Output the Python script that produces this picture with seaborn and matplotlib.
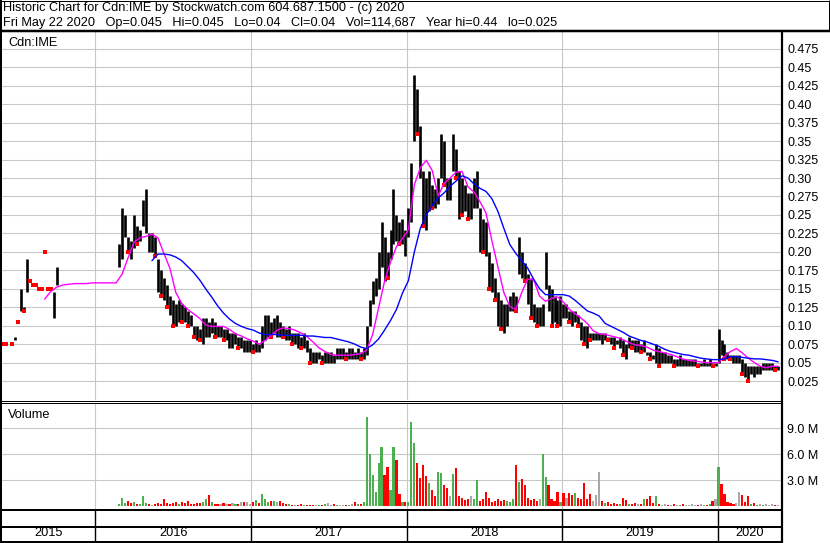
import numpy as np
import pandas as pd
import matplotlib
matplotlib.use('Agg')
import matplotlib.pyplot as plt
import seaborn as sns

nan = np.nan

# weekly bars, Fridays from 2015-05-29 to 2020-05-22
week_start = '2015-05-29'
n_weeks = 261

hi = [.075, .075, nan, .075, .085, .105, .15, .125, .19, .16,
      .155, .155, .15, .15, .2, .15, .15, .145, .18, nan,
      nan, nan, nan, nan, nan, nan, nan, nan, nan, nan,
      nan, nan, nan, nan, nan, nan, nan, nan, nan, .21,
      .26, .25, .22, .215, .25, .235, .23, .27, .285, .225,
      .225, .22, .19, .175, .165, .155, .14, .135, .13, .135,
      .13, .125, .12, .115, .1, .1, .095, .11, .11, .105,
      .11, .105, .1, .1, .095, .095, .09, .09, .09, .085,
      .085, .08, .08, .08, .075, .08, .075, .1, .115, .115,
      .105, .11, .115, .105, .1, .095, .1, .09, .09, .09,
      .085, .09, .08, .07, .065, .065, .065, .06, .065, .065,
      .065, .06, .07, .07, .07, .065, .07, .07, .065, .07,
      .065, .07, .1, .135, .16, .165, .2, .24, .22, .2,
      .23, .285, .25, .24, .245, .23, .26, .32, .44, .42,
      .37, .31, .3, .31, .29, .285, .3, .36, .35, .3,
      .3, .36, .34, .31, .3, .29, .28, .28, .3, .31,
      .26, .245, .24, .2, .185, .165, .145, .135, .13, .13,
      .14, .145, .14, .22, .2, .185, .17, .165, .13, .125,
      .125, .13, .2, .155, .15, .14, .135, .14, .13, .13,
      .12, .12, .12, .115, .105, .1, .1, .09, .09, .09,
      .09, .09, .09, .085, .085, .085, .08, .085, .08, .075,
      .085, .08, .08, .08, .075, .08, .065, .065, .06, .075,
      .07, .065, .065, .06, .06, .055, .055, .06, .055, .055,
      .055, .055, .055, .05, .05, .055, .05, .055, .05, .05,
      .095, .08, .075, .065, .06, .06, .06, .06, .055, .05,
      .045, .045, .045, .045, .045, .05, .05, .05, .05, .045, .045]

lo = [.075, .075, nan, .075, .08, .105, .12, .12, .145, .16,
      .155, .155, .15, .15, .2, .15, .15, .11, .155, nan,
      nan, nan, nan, nan, nan, nan, nan, nan, nan, nan,
      nan, nan, nan, nan, nan, nan, nan, nan, nan, .18,
      .19, .22, .2, .19, .205, .21, .215, .235, .225, .2,
      .2, .195, .145, .14, .135, .125, .115, .1, .1, .105,
      .105, .105, .1, .1, .085, .08, .08, .075, .085, .085,
      .09, .085, .085, .085, .08, .08, .07, .07, .075, .07,
      .07, .065, .065, .065, .065, .065, .065, .07, .08, .085,
      .085, .09, .085, .085, .085, .08, .08, .075, .075, .07,
      .07, .07, .065, .05, .05, .05, .055, .05, .05, .05,
      .05, .05, .055, .055, .055, .055, .055, .055, .055, .055,
      .055, .055, .06, .1, .13, .14, .15, .18, .16, .165,
      .19, .21, .215, .21, .21, .195, .22, .24, .35, .36,
      .3, .235, .23, .255, .26, .26, .265, .3, .29, .27,
      .27, .31, .3, .245, .25, .255, .245, .245, .26, .26,
      .2, .2, .195, .15, .145, .135, .1, .095, .09, .1,
      .12, .12, .12, .17, .165, .16, .13, .11, .105, .1,
      .1, .1, .15, .12, .1, .105, .1, .1, .11, .11,
      .105, .1, .105, .1, .08, .075, .07, .08, .08, .08,
      .08, .075, .08, .08, .075, .07, .075, .07, .06, .055,
      .07, .07, .065, .065, .065, .065, .06, .055, .055, .05,
      .045, .05, .05, .05, .05, .045, .045, .045, .045, .045,
      .045, .045, .045, .045, .045, .045, .045, .045, .045, .045,
      .05, .06, .055, .055, .055, .05, .05, .05, .035, .03,
      .025, .035, .03, .035, .035, .04, .04, .04, .04, .04, .04]

# volume in millions
vol = [.08, .08, 0, .08, .08, .08, .08, .08, .08, .08,
       .08, .08, .08, .08, .08, .08, .08, .08, .08, 0,
       0, 0, 0, 0, 0, 0, 0, 0, 0, 0,
       0, 0, 0, 0, 0, 0, 0, 0, 0, .3,
       .96, .4, .6, .4, .5, .3, .3, 1.2, .4, .3,
       .2, .3, .4, .3, .85, .4, .3, .4, .5, .3,
       .5, .4, .6, .3, .3, .4, .4, .5, .8, 1.3,
       .5, .3, .3, .3, .4, .3, .3, .4, .3, .3,
       .5, .5, .5, .3, .5, .7, .4, 1.4, .9, .5,
       .6, .6, .5, .6, .4, .3, .3, .2, .2, .2,
       .3, .2, .2, .2, .2, .2, .2, .2, .3, .4,
       .2, .3, .2, .2, .2, .2, .2, .3, .5, .3,
       .3, .5, 10.3, 6.0, 3.6, 1.6, 5.0, 6.8, 3.6, 4.5,
       1.9, 6.8, 5.3, 1.4, .5, .5, .5, 9.7, 7.3, 5.0,
       3.3, 4.8, 3.5, 2.7, 1.9, 1.2, 4.0, 3.8, 2.5, 2.1,
       1.2, 3.7, 4.4, 1.2, 1.0, .7, .9, 1.2, .8, 3.0,
       .6, .8, 1.6, 1.0, .5, .6, .8, .6, .7, .6,
       .5, .8, 4.8, 2.8, 3.1, 2.5, 1.0, .7, .8, .6,
       .9, 6.0, 3.4, 2.5, .9, .6, 1.6, .5, 1.5, 1.0,
       1.5, 1.3, 1.5, 1.0, .8, 2.7, .8, 1.4, .6, 1.3,
       4.0, .6, .4, .5, .3, .4, .3, .3, 1.0, .7,
       .3, .3, .4, .3, .3, .9, .9, 1.2, .4, 1.2,
       .3, .2, .3, .2, .2, .3, .2, .2, .3, .2,
       .2, .3, .2, .2, .3, .2, .2, .3, .6, .9,
       4.5, 2.6, 1.4, .5, .4, .3, .4, 1.6, 1.3, .5,
       1.2, .3, .4, .2, .3, .2, .3, .2, .3, .2, .2]

# moving averages, every second week
ma_short_from = 14
ma_short = [.136, .146, .152, .155, .156, .157, .157, .157, .158, .158,
            .158, .158, .158, .17, .192, .213, .219, .221, .224, .219,
            .198, .178, .145, .13, .122, .116, .11, .101, .099, .099,
            .099, .095, .089, .086, .082, .079, .075, .08, .087, .094,
            .097, .096, .094, .09, .085, .078, .07, .065, .061, .06,
            .06, .06, .061, .062, .067, .088, .124, .16, .186, .207,
            .218, .23, .291, .314, .324, .31, .276, .293, .3, .308,
            .309, .288, .281, .268, .253, .215, .18, .145, .126, .122,
            .145, .163, .162, .14, .133, .137, .139, .132, .122, .116,
            .11, .103, .093, .089, .088, .086, .084, .081, .077, .074,
            .073, .071, .067, .065, .063, .061, .058, .055, .053, .052,
            .051, .05, .05, .05, .058, .065, .069, .063, .056, .05,
            .045, .043, .045, .045]
ma_long_from = 50
ma_long = [.188, .197, .197, .196, .193, .188, .18, .172, .162, .15,
           .139, .127, .117, .109, .103, .099, .096, .094, .09, .088,
           .088, .088, .087, .087, .087, .087, .086, .086, .085, .084,
           .084, .082, .08, .078, .075, .071, .069, .074, .082, .094,
           .107, .122, .144, .161, .2, .232, .25, .263, .273, .28,
           .289, .296, .303, .3, .292, .286, .282, .272, .255, .232,
           .21, .198, .188, .178, .163, .15, .142, .142, .142, .142,
           .14, .134, .127, .12, .117, .113, .103, .099, .095, .091,
           .086, .083, .08, .078, .075, .072, .068, .065, .063, .061,
           .06, .058, .056, .055, .054, .054, .055, .058, .058, .057,
           .056, .055, .055, .054, .053, .051]

price_ticks = [.025, .05, .075, .10, .125, .15, .175, .20, .225, .25,
               .275, .30, .325, .35, .375, .40, .425, .45, .475]
price_labels = ['0.025', '0.05', '0.075', '0.10', '0.125', '0.15', '0.175',
                '0.20', '0.225', '0.25', '0.275', '0.30', '0.325', '0.35',
                '0.375', '0.40', '0.425', '0.45', '0.475']
vol_ticks = [3e6, 6e6, 9e6]
vol_labels = ['3.0 M', '6.0 M', '9.0 M']
years = [2015, 2016, 2017, 2018, 2019, 2020]

title1 = 'Historic Chart for Cdn:IME by Stockwatch.com 604.687.1500 - (c) 2020'
title2 = ('Fri May 22 2020   Op=0.045   Hi=0.045   Lo=0.04   Cl=0.04   '
          'Vol=114,687   Year hi=0.44   lo=0.025')

sns.set_theme(style='white')
plt.rcParams['font.family'] = ['Liberation Sans', 'DejaVu Sans']
FS = 9.2    # header, panel names, years
FS_T = 9.0  # right-hand scale

W, H = 830, 543
PX = 0.72  # one pixel in points

dates = pd.date_range(week_start, periods=n_weeks, freq='7D')
hi = np.array(hi)
lo = np.array(lo)
vol = np.array(vol) * 1e6
mid = pd.Series((hi + lo) / 2)
prev = mid.ffill().shift()
vcol = np.where(mid > prev, '#4caf50', np.where(mid < prev, '#ff0000', '#a8a8a8'))

x_left = pd.Timestamp('2015-05-27')
x_right = pd.Timestamp('2020-05-31')
year_starts = [pd.Timestamp(f'{y}-01-01') for y in years[1:]]


def box(x0, y0, x1, y1):
    return [x0 / W, 1 - y1 / H, (x1 - x0) / W, (y1 - y0) / H]


fig = plt.figure(figsize=(W / 100, H / 100), dpi=100)
fig.patch.set_facecolor('white')

# price panel
ax = fig.add_axes(box(2, 30.4, 782, 399.5))
ax.set_xlim(x_left, x_right)
ax.set_ylim(0, 0.5)
ax.set_xticks(year_starts)
ax.set_xticklabels([])
ax.set_yticks(price_ticks)
ax.set_yticklabels(price_labels)
ax.yaxis.tick_right()
ax.tick_params(axis='both', length=0, labelsize=FS_T, pad=3.6, colors='black')
ax.grid(True, color='#c8c8c8', lw=1.1 * PX)
ax.set_axisbelow(True)
for s in ax.spines.values():
    s.set_visible(False)

ax.vlines(dates, lo, hi, color='black', lw=1.9, zorder=3)
flat = hi == lo
down = (mid < prev).values & ~flat
sns.scatterplot(x=dates[flat], y=hi[flat], ax=ax, color='#ff0000', marker='s',
                s=10, linewidth=0, zorder=4)
sns.scatterplot(x=dates[down][::2], y=lo[down][::2], ax=ax, color='#ff0000',
                marker='s', s=6, linewidth=0, zorder=4)
sns.lineplot(x=dates[ma_short_from::2], y=ma_short, ax=ax, color='#ff00ff',
             lw=1.0, zorder=5)
sns.lineplot(x=dates[ma_long_from::2], y=ma_long, ax=ax, color='#0000ff',
             lw=1.0, zorder=5)
ax.set_xlabel('')
ax.set_ylabel('')
ax.text(6 / 780, 1 - 15.5 / 369, 'Cdn:IME', transform=ax.transAxes,
        fontsize=FS, color='black')

# volume panel
axv = fig.add_axes(box(2, 403, 782, 509))
axv.set_xlim(x_left, x_right)
axv.set_ylim(-0.31e6, 11.92e6)
axv.set_xticks(year_starts)
axv.set_xticklabels([])
axv.set_yticks(vol_ticks)
axv.set_yticklabels(vol_labels)
axv.yaxis.tick_right()
axv.tick_params(axis='both', length=0, labelsize=FS_T, pad=3.6, colors='black')
axv.grid(True, color='#c8c8c8', lw=1.1 * PX)
axv.set_axisbelow(True)
for s in axv.spines.values():
    s.set_visible(False)
axv.bar(dates, vol, width=5.0, color=vcol, linewidth=0, zorder=3)
axv.text(6 / 780, 1 - 15 / 106, 'Volume', transform=axv.transAxes,
         fontsize=FS, color='black')

# date band
axd = fig.add_axes(box(2, 509, 782, 541))
axd.set_xlim(x_left, x_right)
axd.set_ylim(0, 1)
axd.axis('off')
bounds = [x_left] + year_starts + [x_right]
for y, a, b in zip(years, bounds[:-1], bounds[1:]):
    axd.text(a + (b - a) / 2, 0.07, str(y), ha='center', va='bottom',
             fontsize=FS, color='black')
for d in year_starts:
    axd.axvline(d, color='black', lw=1.4 * PX)

# frame
fr = fig.add_axes([0, 0, 1, 1], zorder=10)
fr.set_xlim(0, W)
fr.set_ylim(H, 0)
fr.axis('off')
fr.patch.set_alpha(0)
k = dict(color='black', solid_capstyle='butt')
fr.plot([0, 830], [0.5, 0.5], lw=PX, **k)
fr.plot([828.5, 828.5], [0, 31], lw=PX, **k)
fr.plot([1, 1], [0, 542], lw=2 * PX, **k)
fr.plot([0, 830], [31, 31], lw=2.5 * PX, **k)
fr.plot([782, 782], [31, 542.5], lw=2.2 * PX, **k)
fr.plot([0, 782], [400.5, 400.5], lw=PX, **k)
fr.plot([0, 782], [402.5, 402.5], lw=PX, **k)
fr.plot([0, 782], [509.5, 509.5], lw=2 * PX, **k)
fr.plot([0, 782], [527, 527], lw=2 * PX, **k)
fr.plot([0, 782], [541.8, 541.8], lw=2 * PX, **k)
fr.text(3, 11.0, title1, fontsize=FS, va='baseline', color='black')
fr.text(3, 25.8, title2, fontsize=FS, va='baseline', color='black')

fig.savefig('out.png', dpi=100, facecolor='white')
